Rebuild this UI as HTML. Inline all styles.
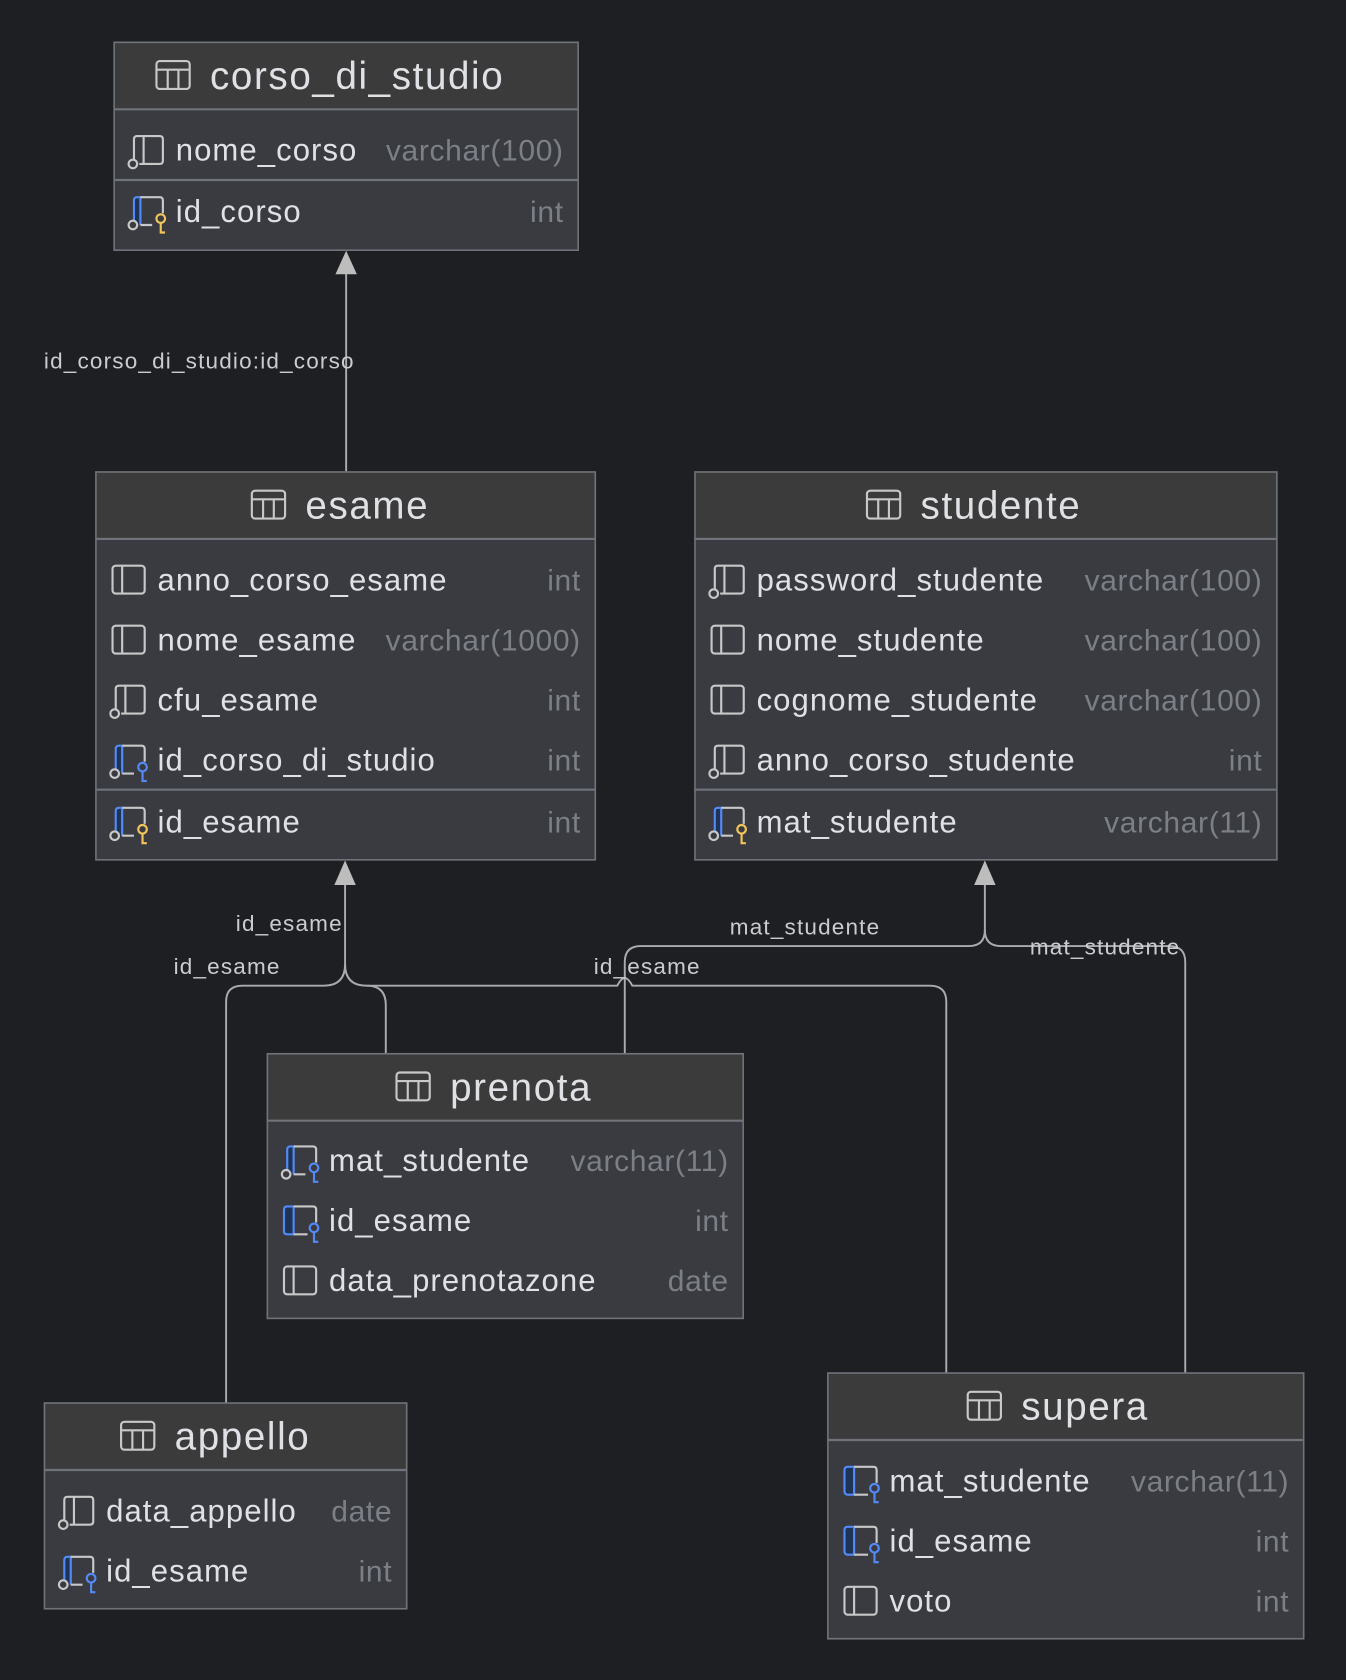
<!DOCTYPE html>
<html><head><meta charset="utf-8"><style>
html,body{margin:0;padding:0;background:#1e1f22;}
svg{display:block}
text{font-family:"Liberation Sans",sans-serif;}
.t{font-size:36px;fill:#dfe1e5;letter-spacing:1.5px}
.n{font-size:29px;fill:#dfe1e5;letter-spacing:1px}
.ty{font-size:28px;fill:#7b7f86;text-anchor:end;letter-spacing:0.6px}
.l{font-size:21px;fill:#c9ccd1;letter-spacing:1.1px}
.hd{fill:#3b3b3c}
.bd{fill:#393b40}
.bo{fill:none;stroke:#6f737a;stroke-width:1.5}
.sep{stroke:#6f737a;stroke-width:2}
.c{fill:none;stroke:#a9abaf;stroke-width:1.8}
</style></head><body>
<svg width="1346" height="1680" viewBox="0 0 1256 1568" preserveAspectRatio="none" xmlns="http://www.w3.org/2000/svg">
<defs>
<g id="tbl" fill="none" stroke="#c8c8c8" stroke-width="2"><rect x="1" y="-13" width="31" height="26" rx="3"/><line x1="1" y1="-5" x2="32" y2="-5"/><line x1="11.5" y1="-5" x2="11.5" y2="13"/><line x1="21.5" y1="-5" x2="21.5" y2="13"/></g>
<g id="col" fill="none" stroke="#c8c8c8" stroke-width="2"><rect x="2" y="-13" width="30" height="26" rx="3"/><line x1="11" y1="-13" x2="11" y2="13"/></g>
<g id="ncol" fill="none" stroke="#c8c8c8" stroke-width="2"><path d="M5 9 V-10 Q5 -13 8 -13 H29 Q32 -13 32 -10 V10 Q32 13 29 13 H10"/><line x1="14" y1="-13" x2="14" y2="13"/><circle cx="4" cy="13" r="4"/></g>
<g id="fkn" stroke-width="2"><path d="M5 9 V-10 Q5 -13 8 -13 H11 V13" fill="#1f3454" stroke="#548af7"/><path d="M11 -13 H29 Q32 -13 32 -10 V2 M11 13 H22" fill="none" stroke="#c8c8c8"/><circle cx="4" cy="13" r="4" fill="none" stroke="#c8c8c8"/><circle cx="30" cy="7" r="4" fill="none" stroke="#548af7"/><path d="M30 11 V20 H34" fill="none" stroke="#548af7"/></g>
<g id="pkn" stroke-width="2"><path d="M5 9 V-10 Q5 -13 8 -13 H11 V13" fill="#1f3454" stroke="#548af7"/><path d="M11 -13 H29 Q32 -13 32 -10 V2 M11 13 H22" fill="none" stroke="#c8c8c8"/><circle cx="4" cy="13" r="4" fill="none" stroke="#c8c8c8"/><circle cx="30" cy="7" r="4" fill="none" stroke="#f2c55c"/><path d="M30 11 V20 H34" fill="none" stroke="#f2c55c"/></g>
<g id="fk" stroke-width="2"><path d="M11 -13 H5 Q2 -13 2 -10 V10 Q2 13 5 13 H11 Z" fill="#1f3454" stroke="#548af7"/><path d="M11 -13 H29 Q32 -13 32 -10 V2 M11 13 H24" fill="none" stroke="#c8c8c8"/><circle cx="30" cy="7" r="4" fill="none" stroke="#548af7"/><path d="M30 11 V20 H34" fill="none" stroke="#548af7"/></g>
</defs>
<rect width="1256" height="1568" fill="#1e1f22"/>

<path class="c" d="M323 440 V250"/>
<polygon points="323,234 313,256 333,256" fill="#bdbdbd"/>
<text class="l" x="41" y="344">id_corso_di_studio:id_corso</text>

<path class="c" d="M322 820 V900 Q322 920 302 920 H226 Q211 920 211 935 V1309"/>
<path class="c" d="M322 900 Q322 920 342 920 Q360 920 360 938 V983"/>
<path class="c" d="M342 920 H576 Q583 906 590 920 H868 Q883 920 883 935 V1281"/>
<polygon points="322,803 312,826 332,826" fill="#bdbdbd"/>
<path class="c" d="M919 820 V868 Q919 883 904 883 H598 Q583 883 583 898 V983"/>
<path class="c" d="M919 868 Q919 883 934 883 H1091 Q1106 883 1106 898 V1281"/>
<polygon points="919,803 909,826 929,826" fill="#bdbdbd"/>
<text class="l" x="220" y="869">id_esame</text>
<text class="l" x="162" y="909">id_esame</text>
<text class="l" x="554" y="909">id_esame</text>
<text class="l" x="681" y="872">mat_studente</text>
<text class="l" x="961" y="891">mat_studente</text>

<rect class="bd" x="106" y="39" width="434" height="195"/>
<rect class="hd" x="106" y="39" width="434" height="63"/>
<rect class="bo" x="106.5" y="39.5" width="433" height="194"/>
<line class="sep" x1="107" y1="102" x2="539" y2="102"/>
<line class="sep" x1="107" y1="168" x2="539" y2="168"/>
<use href="#tbl" x="145" y="70"/><text class="t" x="196" y="83">corso_di_studio</text>
<use href="#ncol" x="120" y="140"/><text class="n" x="164" y="150">nome_corso</text><text class="ty" x="526" y="150">varchar(100)</text>
<use href="#pkn" x="120" y="197"/><text class="n" x="164" y="207">id_corso</text><text class="ty" x="526" y="207">int</text>

<rect class="bd" x="89" y="440" width="467" height="363"/>
<rect class="hd" x="89" y="440" width="467" height="63"/>
<rect class="bo" x="89.5" y="440.5" width="466" height="362"/>
<line class="sep" x1="90" y1="503" x2="555" y2="503"/>
<line class="sep" x1="90" y1="737" x2="555" y2="737"/>
<use href="#tbl" x="234" y="471"/><text class="t" x="285" y="484">esame</text>
<use href="#col" x="103" y="541"/><text class="n" x="147" y="551">anno_corso_esame</text><text class="ty" x="542" y="551">int</text>
<use href="#col" x="103" y="597"/><text class="n" x="147" y="607">nome_esame</text><text class="ty" x="542" y="607">varchar(1000)</text>
<use href="#ncol" x="103" y="653"/><text class="n" x="147" y="663">cfu_esame</text><text class="ty" x="542" y="663">int</text>
<use href="#fkn" x="103" y="709"/><text class="n" x="147" y="719">id_corso_di_studio</text><text class="ty" x="542" y="719">int</text>
<use href="#pkn" x="103" y="767"/><text class="n" x="147" y="777">id_esame</text><text class="ty" x="542" y="777">int</text>

<rect class="bd" x="648" y="440" width="544" height="363"/>
<rect class="hd" x="648" y="440" width="544" height="63"/>
<rect class="bo" x="648.5" y="440.5" width="543" height="362"/>
<line class="sep" x1="649" y1="503" x2="1191" y2="503"/>
<line class="sep" x1="649" y1="737" x2="1191" y2="737"/>
<use href="#tbl" x="808" y="471"/><text class="t" x="859" y="484">studente</text>
<use href="#ncol" x="662" y="541"/><text class="n" x="706" y="551">password_studente</text><text class="ty" x="1178" y="551">varchar(100)</text>
<use href="#col" x="662" y="597"/><text class="n" x="706" y="607">nome_studente</text><text class="ty" x="1178" y="607">varchar(100)</text>
<use href="#col" x="662" y="653"/><text class="n" x="706" y="663">cognome_studente</text><text class="ty" x="1178" y="663">varchar(100)</text>
<use href="#ncol" x="662" y="709"/><text class="n" x="706" y="719">anno_corso_studente</text><text class="ty" x="1178" y="719">int</text>
<use href="#pkn" x="662" y="767"/><text class="n" x="706" y="777">mat_studente</text><text class="ty" x="1178" y="777">varchar(11)</text>

<rect class="bd" x="249" y="983" width="445" height="248"/>
<rect class="hd" x="249" y="983" width="445" height="63"/>
<rect class="bo" x="249.5" y="983.5" width="444" height="247"/>
<line class="sep" x1="250" y1="1046" x2="693" y2="1046"/>
<use href="#tbl" x="369" y="1014"/><text class="t" x="420" y="1027">prenota</text>
<use href="#fkn" x="263" y="1083"/><text class="n" x="307" y="1093">mat_studente</text><text class="ty" x="680" y="1093">varchar(11)</text>
<use href="#fk" x="263" y="1139"/><text class="n" x="307" y="1149">id_esame</text><text class="ty" x="680" y="1149">int</text>
<use href="#col" x="263" y="1195"/><text class="n" x="307" y="1205">data_prenotazone</text><text class="ty" x="680" y="1205">date</text>

<rect class="bd" x="41" y="1309" width="339" height="193"/>
<rect class="hd" x="41" y="1309" width="339" height="63"/>
<rect class="bo" x="41.5" y="1309.5" width="338" height="192"/>
<line class="sep" x1="42" y1="1372" x2="379" y2="1372"/>
<use href="#tbl" x="112" y="1340"/><text class="t" x="163" y="1353">appello</text>
<use href="#ncol" x="55" y="1410"/><text class="n" x="99" y="1420">data_appello</text><text class="ty" x="366" y="1420">date</text>
<use href="#fkn" x="55" y="1466"/><text class="n" x="99" y="1476">id_esame</text><text class="ty" x="366" y="1476">int</text>

<rect class="bd" x="772" y="1281" width="445" height="249"/>
<rect class="hd" x="772" y="1281" width="445" height="63"/>
<rect class="bo" x="772.5" y="1281.5" width="444" height="248"/>
<line class="sep" x1="773" y1="1344" x2="1216" y2="1344"/>
<use href="#tbl" x="902" y="1312"/><text class="t" x="953" y="1325">supera</text>
<use href="#fk" x="786" y="1382"/><text class="n" x="830" y="1392">mat_studente</text><text class="ty" x="1203" y="1392">varchar(11)</text>
<use href="#fk" x="786" y="1438"/><text class="n" x="830" y="1448">id_esame</text><text class="ty" x="1203" y="1448">int</text>
<use href="#col" x="786" y="1494"/><text class="n" x="830" y="1504">voto</text><text class="ty" x="1203" y="1504">int</text>
</svg>
</body></html>
